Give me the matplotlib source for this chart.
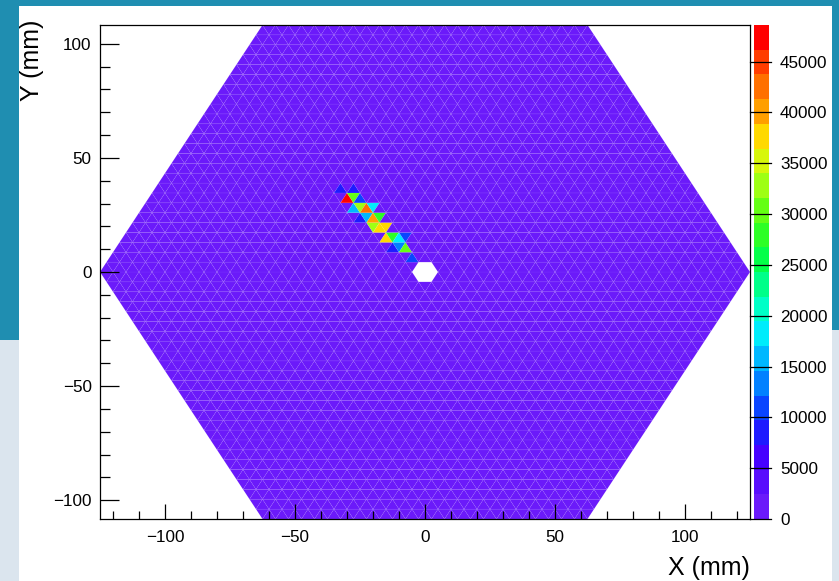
import numpy as np
import matplotlib.pyplot as plt
from matplotlib.collections import PolyCollection
from matplotlib.colors import LinearSegmentedColormap, BoundaryNorm
from matplotlib.patches import Rectangle

plt.rcParams['font.family'] = ['Liberation Sans', 'DejaVu Sans']

# triangular pad plane: hexagon tiled with equilateral triangles
pitch = 5.0                       # triangle side (mm)
n_rows = 25                       # rows above / below the centre line
row_h = pitch * np.sqrt(3) / 2
hex_r = pitch * n_rows

# charge per pad; pads not listed sit at the pedestal
pedestal = 400
hot_row = [8, 8,
           7, 7, 7,
           6, 6, 6, 6,
           5, 5, 5, 5,
           4, 4, 4,
           3, 3, 3, 3,
           2, 2, 2,
           1]
hot_col = [-13, -11,
           -12, -11, -10,
           -11, -10, -9, -8,
           -10, -9, -8, -7,
           -8, -7, -6,
           -6, -5, -4, -3,
           -5, -4, -3,
           -2]
hot_val = [8500, 9000,
           48600, 31000, 10500,
           17000, 33000, 42000, 18000,
           9000, 16000, 41000, 27000,
           34000, 37500, 38000,
           37000, 29000, 19000, 10500,
           9000, 13000, 31000,
           11500]

# pads around the beam hole (not read out)
hole_row = [0, 0, 0, -1, -1, -1]
hole_col = [-1, 0, 1, -1, 0, 1]

z_min, z_max = 0, 48600
n_levels = 20
z_ticks = [0, 5000, 10000, 15000, 20000, 25000, 30000, 35000, 40000, 45000]

hot = {(r, c): v for r, c, v in zip(hot_row, hot_col, hot_val)}
hole = set(zip(hole_row, hole_col))

polys, vals = [], []
for b in range(-n_rows, n_rows):
    y0 = b * row_h
    for k in range(-2 * n_rows - 2, 2 * n_rows + 3):
        if (b, k) in hole:
            continue
        xc = 2.5 * k
        up = (k - b) % 2 == 1
        cy = y0 + row_h / 3 if up else y0 + 2 * row_h / 3
        if abs(xc) + abs(cy) / np.sqrt(3) >= hex_r:
            continue
        if up:
            tri = [(xc - 2.5, y0), (xc + 2.5, y0), (xc, y0 + row_h)]
        else:
            tri = [(xc - 2.5, y0 + row_h), (xc + 2.5, y0 + row_h), (xc, y0)]
        polys.append(tri)
        vals.append(hot.get((b, k), pedestal))

cmap = LinearSegmentedColormap.from_list('pretty', [
    (0.00, (0.42, 0.10, 0.98)),
    (0.10, (0.28, 0.00, 1.00)),
    (0.18, (0.05, 0.15, 1.00)),
    (0.28, (0.00, 0.58, 1.00)),
    (0.36, (0.00, 0.92, 1.00)),
    (0.42, (0.00, 1.00, 0.78)),
    (0.52, (0.00, 1.00, 0.30)),
    (0.60, (0.25, 1.00, 0.08)),
    (0.70, (0.70, 1.00, 0.08)),
    (0.77, (1.00, 0.93, 0.00)),
    (0.84, (1.00, 0.62, 0.00)),
    (0.92, (1.00, 0.35, 0.00)),
    (1.00, (1.00, 0.00, 0.00)),
])
levels = np.linspace(z_min, z_max, n_levels + 1)
norm = BoundaryNorm(levels, cmap.N)

fig = plt.figure(figsize=(8.39, 5.81), dpi=100)
fig.patch.set_facecolor('#dbe5ee')
W, H = 839.0, 581.0
fig.add_artist(Rectangle((0, 1 - 340 / H), 19 / W, 340 / H, transform=fig.transFigure,
                         facecolor='#1f8eb1', edgecolor='none', zorder=-5))
fig.add_artist(Rectangle((832 / W, 1 - 330 / H), 1 - 832 / W, 330 / H, transform=fig.transFigure,
                         facecolor='#1f8eb1', edgecolor='none', zorder=-5))
fig.add_artist(Rectangle((0, 1 - 6 / H), 1, 6 / H, transform=fig.transFigure,
                         facecolor='#1f8eb1', edgecolor='none', zorder=-5))
fig.add_artist(Rectangle((19 / W, 0), (832 - 19) / W, 1 - 6 / H, transform=fig.transFigure,
                         facecolor='white', edgecolor='none', zorder=-4))

ax = fig.add_axes([100 / W, 1 - 519 / H, 650 / W, 494 / H])
ax.set_facecolor('white')
pc = PolyCollection(polys, array=np.array(vals), cmap=cmap, norm=norm,
                    edgecolors=(1, 1, 1, 0.06), linewidths=0.5)
ax.add_collection(pc)
ax.set_xlim(-hex_r, hex_r)
ax.set_ylim(-n_rows * row_h, n_rows * row_h)

ax.set_xticks([-100, -50, 0, 50, 100])
ax.set_xticks(np.arange(-120, 121, 10), minor=True)
ax.set_yticks([-100, -50, 0, 50, 100])
ax.set_yticks(np.arange(-100, 101, 10), minor=True)
ax.tick_params(axis='both', which='both', direction='in', top=False, right=False,
               labelsize=12.3, width=0.9, color='black')
ax.tick_params(axis='y', which='major', length=14, pad=6)
ax.tick_params(axis='y', which='minor', length=7)
ax.tick_params(axis='x', which='major', length=11, pad=8)
ax.tick_params(axis='x', which='minor', length=5.5)
for s in ax.spines.values():
    s.set_linewidth(0.9)

fig.text(750 / W, 1 - 568 / H, 'X (mm)', ha='right', va='center', fontsize=18)
fig.text(32 / W, 1 - 20 / H, 'Y (mm)', ha='center', va='top', rotation=90, fontsize=18)

# palette axis: tick marks run across the colour bar
cax = fig.add_axes([754 / W, 1 - 519 / H, 15 / W, 494 / H])
cb = fig.colorbar(pc, cax=cax, ticks=z_ticks)
cb.outline.set_visible(False)
cax.yaxis.set_ticks_position('right')
cax.tick_params(length=0, pad=8, labelsize=12.3)
cb.ax.minorticks_off()
for t in z_ticks:
    cax.axhline(t, xmin=-0.27, xmax=1.15, color='black', lw=0.9, clip_on=False, zorder=5)

fig.savefig('out.png', dpi=100)
